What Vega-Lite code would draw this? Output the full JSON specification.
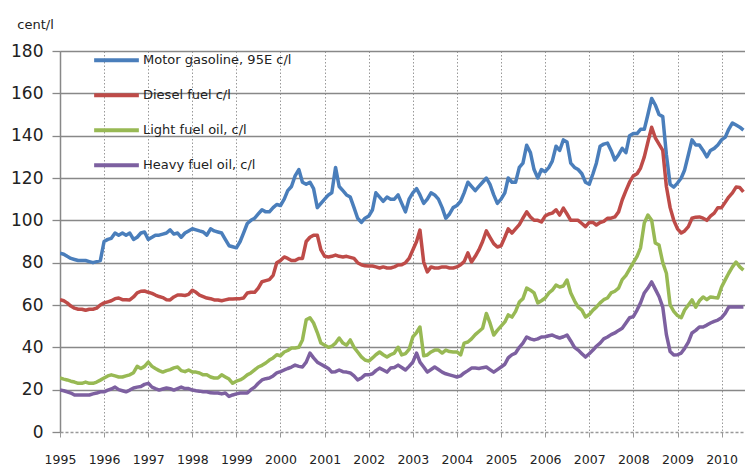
{
  "$schema": "https://vega.github.io/schema/vega-lite/v6.json",
  "width": 685,
  "height": 381,
  "autosize": {"type": "none"},
  "padding": {"left": 60, "top": 51, "right": 0, "bottom": 35},
  "background": "white",
  "config": {"view": {"stroke": null}},
  "data": {"values": [
    {"date":"1995-01-01","g":84.5,"d":62.5,"l":25.5,"h":19.8},
    {"date":"1995-02-01","g":84,"d":62,"l":25,"h":19.5},
    {"date":"1995-03-01","g":83,"d":61,"l":24.6,"h":19},
    {"date":"1995-04-01","g":82,"d":59.5,"l":24,"h":18.4},
    {"date":"1995-05-01","g":81.5,"d":58.5,"l":23.6,"h":17.5},
    {"date":"1995-06-01","g":81,"d":58,"l":23,"h":17.5},
    {"date":"1995-07-01","g":81,"d":58,"l":23,"h":17.5},
    {"date":"1995-08-01","g":81,"d":57.5,"l":23.6,"h":17.5},
    {"date":"1995-09-01","g":80.5,"d":58,"l":23,"h":17.5},
    {"date":"1995-10-01","g":80,"d":58,"l":23,"h":18},
    {"date":"1995-11-01","g":80.5,"d":58.5,"l":23.6,"h":18.4},
    {"date":"1995-12-01","g":81,"d":60,"l":24.5,"h":19},
    {"date":"1996-01-01","g":90,"d":61,"l":25.5,"h":19},
    {"date":"1996-02-01","g":91,"d":61.5,"l":26.5,"h":19.8},
    {"date":"1996-03-01","g":91.5,"d":62,"l":27,"h":20.3},
    {"date":"1996-04-01","g":94,"d":63,"l":26.5,"h":21.2},
    {"date":"1996-05-01","g":93,"d":63.3,"l":26,"h":20},
    {"date":"1996-06-01","g":94,"d":62.5,"l":26,"h":19.5},
    {"date":"1996-07-01","g":93,"d":62.5,"l":26.5,"h":19},
    {"date":"1996-08-01","g":94,"d":62.4,"l":27,"h":19.8},
    {"date":"1996-09-01","g":91,"d":63.8,"l":28,"h":20.8},
    {"date":"1996-10-01","g":92,"d":65.7,"l":31,"h":21.2},
    {"date":"1996-11-01","g":94,"d":66.5,"l":30,"h":21.5},
    {"date":"1996-12-01","g":94.5,"d":66.6,"l":31,"h":22.5},
    {"date":"1997-01-01","g":91,"d":66,"l":33,"h":23},
    {"date":"1997-02-01","g":92,"d":65.5,"l":31,"h":21.2},
    {"date":"1997-03-01","g":93,"d":64.7,"l":30,"h":20.5},
    {"date":"1997-04-01","g":93,"d":64,"l":29,"h":19.8},
    {"date":"1997-05-01","g":93.5,"d":63.5,"l":28.3,"h":20.3},
    {"date":"1997-06-01","g":94,"d":62.5,"l":29,"h":20.8},
    {"date":"1997-07-01","g":95.5,"d":62.4,"l":29.5,"h":20.5},
    {"date":"1997-08-01","g":93.5,"d":63.8,"l":30.3,"h":19.8},
    {"date":"1997-09-01","g":94,"d":64.7,"l":30.7,"h":20.5},
    {"date":"1997-10-01","g":92,"d":64.7,"l":29,"h":21.2},
    {"date":"1997-11-01","g":94,"d":64.5,"l":28.5,"h":20.5},
    {"date":"1997-12-01","g":95,"d":65,"l":29.3,"h":20.5},
    {"date":"1998-01-01","g":96,"d":67,"l":28.3,"h":19.8},
    {"date":"1998-02-01","g":95.5,"d":66,"l":28.3,"h":19.5},
    {"date":"1998-03-01","g":95,"d":64.7,"l":27.9,"h":19.3},
    {"date":"1998-04-01","g":94.5,"d":64,"l":27,"h":19},
    {"date":"1998-05-01","g":93,"d":63.3,"l":27,"h":19},
    {"date":"1998-06-01","g":96,"d":63,"l":26,"h":18.5},
    {"date":"1998-07-01","g":95,"d":62.4,"l":25.5,"h":18.4},
    {"date":"1998-08-01","g":94.5,"d":62.4,"l":25.5,"h":18.4},
    {"date":"1998-09-01","g":94,"d":62,"l":27,"h":18},
    {"date":"1998-10-01","g":91,"d":62.4,"l":26,"h":18.4},
    {"date":"1998-11-01","g":88,"d":62.8,"l":25,"h":16.8},
    {"date":"1998-12-01","g":87.5,"d":62.8,"l":23,"h":17.5},
    {"date":"1999-01-01","g":87,"d":63,"l":24,"h":18},
    {"date":"1999-02-01","g":90,"d":63,"l":24.6,"h":18.4},
    {"date":"1999-03-01","g":94,"d":63.3,"l":25.5,"h":18.4},
    {"date":"1999-04-01","g":98.5,"d":65.7,"l":27,"h":18.4},
    {"date":"1999-05-01","g":100,"d":66,"l":27.9,"h":20},
    {"date":"1999-06-01","g":101,"d":66,"l":29.3,"h":21.2},
    {"date":"1999-07-01","g":103,"d":68,"l":30.7,"h":23},
    {"date":"1999-08-01","g":105,"d":71,"l":31.5,"h":24.6},
    {"date":"1999-09-01","g":104,"d":71.5,"l":32.6,"h":25.2},
    {"date":"1999-10-01","g":104,"d":72,"l":34,"h":25.5},
    {"date":"1999-11-01","g":106,"d":74,"l":35,"h":26.5},
    {"date":"1999-12-01","g":107.5,"d":80,"l":36.5,"h":27.9},
    {"date":"2000-01-01","g":107,"d":81,"l":36,"h":28.5},
    {"date":"2000-02-01","g":110,"d":82.7,"l":37.8,"h":29.3},
    {"date":"2000-03-01","g":114,"d":82,"l":38.5,"h":30},
    {"date":"2000-04-01","g":116,"d":81,"l":39.7,"h":30.7},
    {"date":"2000-05-01","g":121,"d":81,"l":39.7,"h":31.6},
    {"date":"2000-06-01","g":124,"d":82,"l":40,"h":31},
    {"date":"2000-07-01","g":118,"d":82,"l":43.5,"h":30.7},
    {"date":"2000-08-01","g":117,"d":90,"l":53,"h":33},
    {"date":"2000-09-01","g":118,"d":92,"l":54,"h":37.3},
    {"date":"2000-10-01","g":115,"d":93,"l":51.5,"h":35},
    {"date":"2000-11-01","g":106,"d":93,"l":47,"h":33},
    {"date":"2000-12-01","g":108,"d":86,"l":42,"h":32},
    {"date":"2001-01-01","g":110,"d":83,"l":41,"h":31},
    {"date":"2001-02-01","g":112,"d":82.7,"l":40,"h":30},
    {"date":"2001-03-01","g":113,"d":83,"l":40.5,"h":28.3},
    {"date":"2001-04-01","g":125,"d":83.6,"l":42,"h":28.5},
    {"date":"2001-05-01","g":116,"d":83,"l":44.4,"h":29.3},
    {"date":"2001-06-01","g":114,"d":82.7,"l":42,"h":28.5},
    {"date":"2001-07-01","g":112,"d":83,"l":41,"h":28.3},
    {"date":"2001-08-01","g":111,"d":82.5,"l":43.5,"h":27.9},
    {"date":"2001-09-01","g":106,"d":82,"l":40,"h":26.5},
    {"date":"2001-10-01","g":101,"d":80,"l":37.8,"h":24.6},
    {"date":"2001-11-01","g":99,"d":79,"l":35.5,"h":25.5},
    {"date":"2001-12-01","g":101,"d":78.5,"l":34,"h":27},
    {"date":"2002-01-01","g":102,"d":78.4,"l":33.5,"h":27},
    {"date":"2002-02-01","g":105,"d":78.4,"l":35,"h":27.5},
    {"date":"2002-03-01","g":113,"d":78,"l":36.5,"h":29},
    {"date":"2002-04-01","g":111,"d":77.5,"l":37.8,"h":30.2},
    {"date":"2002-05-01","g":109,"d":78,"l":36.5,"h":29.3},
    {"date":"2002-06-01","g":111,"d":77.5,"l":35.4,"h":28.3},
    {"date":"2002-07-01","g":110,"d":77.5,"l":36.5,"h":30.2},
    {"date":"2002-08-01","g":110,"d":78,"l":37.3,"h":30.5},
    {"date":"2002-09-01","g":112,"d":78.9,"l":40,"h":31.6},
    {"date":"2002-10-01","g":108,"d":79,"l":36.4,"h":30.5},
    {"date":"2002-11-01","g":104,"d":80,"l":37,"h":29.3},
    {"date":"2002-12-01","g":110,"d":82,"l":39,"h":31},
    {"date":"2003-01-01","g":113,"d":86,"l":44.9,"h":33},
    {"date":"2003-02-01","g":115,"d":90,"l":47,"h":37.3},
    {"date":"2003-03-01","g":112,"d":95.4,"l":49.6,"h":33},
    {"date":"2003-04-01","g":108,"d":80.3,"l":36,"h":30.7},
    {"date":"2003-05-01","g":110,"d":75.6,"l":36.4,"h":28.3},
    {"date":"2003-06-01","g":113,"d":78,"l":37.8,"h":29.5},
    {"date":"2003-07-01","g":112,"d":77.5,"l":38.7,"h":30.7},
    {"date":"2003-08-01","g":110,"d":77.5,"l":38.7,"h":29.5},
    {"date":"2003-09-01","g":106,"d":78,"l":37.3,"h":28.3},
    {"date":"2003-10-01","g":101,"d":78,"l":38.7,"h":27.5},
    {"date":"2003-11-01","g":103,"d":77.5,"l":38,"h":27},
    {"date":"2003-12-01","g":106,"d":77.5,"l":37.8,"h":26.5},
    {"date":"2004-01-01","g":107,"d":78,"l":37.8,"h":26},
    {"date":"2004-02-01","g":109,"d":79,"l":36.4,"h":26.5},
    {"date":"2004-03-01","g":113,"d":80.5,"l":42,"h":27.9},
    {"date":"2004-04-01","g":118,"d":84.6,"l":42.5,"h":29},
    {"date":"2004-05-01","g":116,"d":80.3,"l":44,"h":30.2},
    {"date":"2004-06-01","g":114,"d":83,"l":46,"h":30.2},
    {"date":"2004-07-01","g":116,"d":86,"l":47.5,"h":30},
    {"date":"2004-08-01","g":118,"d":90,"l":49,"h":30.4},
    {"date":"2004-09-01","g":120,"d":95,"l":56,"h":30.7},
    {"date":"2004-10-01","g":117,"d":92,"l":51.5,"h":29.5},
    {"date":"2004-11-01","g":112,"d":89,"l":45.8,"h":28.3},
    {"date":"2004-12-01","g":108,"d":87.4,"l":48,"h":29.5},
    {"date":"2005-01-01","g":110,"d":88,"l":50,"h":30.7},
    {"date":"2005-02-01","g":113,"d":92,"l":52,"h":32},
    {"date":"2005-03-01","g":120,"d":96,"l":55.3,"h":35},
    {"date":"2005-04-01","g":118,"d":94,"l":54.3,"h":36.5},
    {"date":"2005-05-01","g":118,"d":96,"l":57,"h":37.3},
    {"date":"2005-06-01","g":125,"d":98,"l":61.4,"h":40},
    {"date":"2005-07-01","g":127,"d":101,"l":63,"h":42},
    {"date":"2005-08-01","g":135.5,"d":104,"l":68,"h":44.9},
    {"date":"2005-09-01","g":132,"d":101.6,"l":67,"h":44},
    {"date":"2005-10-01","g":124,"d":100,"l":65.7,"h":43.5},
    {"date":"2005-11-01","g":120,"d":100,"l":61,"h":44},
    {"date":"2005-12-01","g":124,"d":99.2,"l":62,"h":44.9},
    {"date":"2006-01-01","g":123,"d":102,"l":63.3,"h":45},
    {"date":"2006-02-01","g":125,"d":103,"l":65.7,"h":45.5},
    {"date":"2006-03-01","g":128,"d":103.4,"l":67,"h":45.8},
    {"date":"2006-04-01","g":135,"d":105,"l":69.4,"h":45},
    {"date":"2006-05-01","g":133,"d":102.5,"l":68.5,"h":44.4},
    {"date":"2006-06-01","g":138,"d":105.8,"l":69,"h":45},
    {"date":"2006-07-01","g":137,"d":103,"l":71.8,"h":45.8},
    {"date":"2006-08-01","g":127,"d":100,"l":65.7,"h":43},
    {"date":"2006-09-01","g":125,"d":100,"l":62,"h":40},
    {"date":"2006-10-01","g":124,"d":100,"l":59,"h":38.7},
    {"date":"2006-11-01","g":122,"d":98.5,"l":57.6,"h":37},
    {"date":"2006-12-01","g":118,"d":97,"l":54.3,"h":35.4},
    {"date":"2007-01-01","g":117,"d":99,"l":55.5,"h":37},
    {"date":"2007-02-01","g":122,"d":99,"l":57.6,"h":38.7},
    {"date":"2007-03-01","g":127,"d":97.8,"l":59,"h":40.5},
    {"date":"2007-04-01","g":135,"d":99,"l":61,"h":42},
    {"date":"2007-05-01","g":136,"d":99.5,"l":62.5,"h":44},
    {"date":"2007-06-01","g":136.5,"d":101,"l":63.3,"h":44.9},
    {"date":"2007-07-01","g":133,"d":101,"l":65.7,"h":46},
    {"date":"2007-08-01","g":128.5,"d":101.6,"l":66.5,"h":46.8},
    {"date":"2007-09-01","g":131,"d":104,"l":68,"h":48},
    {"date":"2007-10-01","g":134,"d":109.6,"l":72,"h":49},
    {"date":"2007-11-01","g":132,"d":114,"l":74,"h":51.5},
    {"date":"2007-12-01","g":140,"d":118,"l":77,"h":54},
    {"date":"2008-01-01","g":141,"d":121,"l":80,"h":54.5},
    {"date":"2008-02-01","g":141,"d":122,"l":83,"h":57.6},
    {"date":"2008-03-01","g":143,"d":124.7,"l":87,"h":61},
    {"date":"2008-04-01","g":143,"d":130,"l":98.7,"h":65.7},
    {"date":"2008-05-01","g":150,"d":137,"l":102.5,"h":68},
    {"date":"2008-06-01","g":157.6,"d":144,"l":100,"h":70.9},
    {"date":"2008-07-01","g":154.5,"d":139,"l":89.3,"h":67.5},
    {"date":"2008-08-01","g":150,"d":136,"l":88.3,"h":64},
    {"date":"2008-09-01","g":149,"d":133,"l":80,"h":59},
    {"date":"2008-10-01","g":131,"d":116,"l":75,"h":46},
    {"date":"2008-11-01","g":117,"d":106,"l":60,"h":38},
    {"date":"2008-12-01","g":115.7,"d":100,"l":57,"h":36.4},
    {"date":"2009-01-01","g":117.6,"d":96,"l":55,"h":36.5},
    {"date":"2009-02-01","g":120,"d":94,"l":54,"h":37.3},
    {"date":"2009-03-01","g":123.8,"d":95,"l":57.6,"h":39.5},
    {"date":"2009-04-01","g":131,"d":97,"l":60,"h":42.5},
    {"date":"2009-05-01","g":138,"d":101,"l":62.4,"h":46.8},
    {"date":"2009-06-01","g":135.6,"d":101.5,"l":59,"h":48},
    {"date":"2009-07-01","g":135.6,"d":101.6,"l":62,"h":49.6},
    {"date":"2009-08-01","g":133,"d":101,"l":63.8,"h":49.6},
    {"date":"2009-09-01","g":130,"d":100,"l":62.5,"h":50.5},
    {"date":"2009-10-01","g":133,"d":102,"l":63.8,"h":51.5},
    {"date":"2009-11-01","g":134,"d":103.4,"l":63.5,"h":52.3},
    {"date":"2009-12-01","g":135.6,"d":106,"l":63.3,"h":52.9},
    {"date":"2010-01-01","g":138,"d":106,"l":68.5,"h":54},
    {"date":"2010-02-01","g":139.3,"d":108.6,"l":72,"h":56.2},
    {"date":"2010-03-01","g":143,"d":111,"l":75,"h":59},
    {"date":"2010-04-01","g":146,"d":113,"l":78,"h":59},
    {"date":"2010-05-01","g":145,"d":115.7,"l":80.3,"h":59},
    {"date":"2010-06-01","g":144,"d":115.5,"l":78,"h":59},
    {"date":"2010-07-01","g":142.6,"d":113.4,"l":76.5,"h":59}
  ]},
  "transform": [{"fold": ["g", "d", "l", "h"], "as": ["series", "value"]}],
  "mark": {"type": "line", "strokeWidth": 3.5, "strokeJoin": "round", "clip": true},
  "encoding": {
    "x": {
      "field": "date",
      "type": "temporal",
      "scale": {"type": "utc", "domain": [{"year": 1995, "month": 1, "date": 1, "utc": true}, {"year": 2010, "month": 7, "date": 14, "utc": true}]},
      "axis": {
        "title": null,
        "tickCount": {"interval": "year", "step": 1},
        "format": "%Y",
        "labelFont": "DejaVu Sans",
        "labelFontSize": 12.5,
        "labelColor": "#222",
        "labelPadding": 16,
        "labelFlush": false,
        "labelOverlap": false,
        "tickSize": 5,
        "tickColor": "#999",
        "domainColor": "#999",
        "domainWidth": 1.5,
        "domainDash": [3, 2],
        "grid": true,
        "gridColor": "#999",
        "gridWidth": 1,
        "gridDash": [1.5, 2]
      }
    },
    "y": {
      "field": "value",
      "type": "quantitative",
      "scale": {"domain": [0, 180], "nice": false},
      "axis": {
        "title": "cent/l",
        "titleAngle": 0,
        "titleX": -25,
        "titleY": -23,
        "titleAlign": "center",
        "titleBaseline": "alphabetic",
        "titleFont": "DejaVu Sans",
        "titleFontSize": 13,
        "titleFontWeight": "normal",
        "titleColor": "#222",
        "values": [0, 20, 40, 60, 80, 100, 120, 140, 160, 180],
        "labelFont": "DejaVu Sans",
        "labelFontSize": 17,
        "labelColor": "#222",
        "labelPadding": 9,
        "tickSize": 8,
        "tickColor": "#888",
        "tickWidth": 1.3,
        "domainColor": "#888",
        "domainWidth": 1.5,
        "grid": true,
        "gridColor": "#888",
        "gridWidth": 1.3,
        "gridOpacity": {"condition": {"test": "datum.value === 0", "value": 0}, "value": 1}
      }
    },
    "color": {
      "field": "series",
      "type": "nominal",
      "scale": {"domain": ["g", "d", "l", "h"], "range": ["#4A7EBB", "#BE4B48", "#98B954", "#7D60A0"]},
      "legend": {
        "title": null,
        "orient": "none",
        "legendX": 32,
        "legendY": -8,
        "direction": "vertical",
        "symbolType": "stroke",
        "symbolSize": 2000,
        "symbolStrokeWidth": 4,
        "labelFont": "DejaVu Sans",
        "labelFontSize": 13,
        "labelColor": "#222",
        "labelOffset": 2,
        "rowPadding": 0,
        "clipHeight": 34.5,
        "labelExpr": "{'g': 'Motor gasoline, 95E c/l', 'd': 'Diesel fuel c/l', 'l': 'Light fuel oil, c/l', 'h': 'Heavy fuel oil,  c/l'}[datum.label]"
      }
    }
  }
}
